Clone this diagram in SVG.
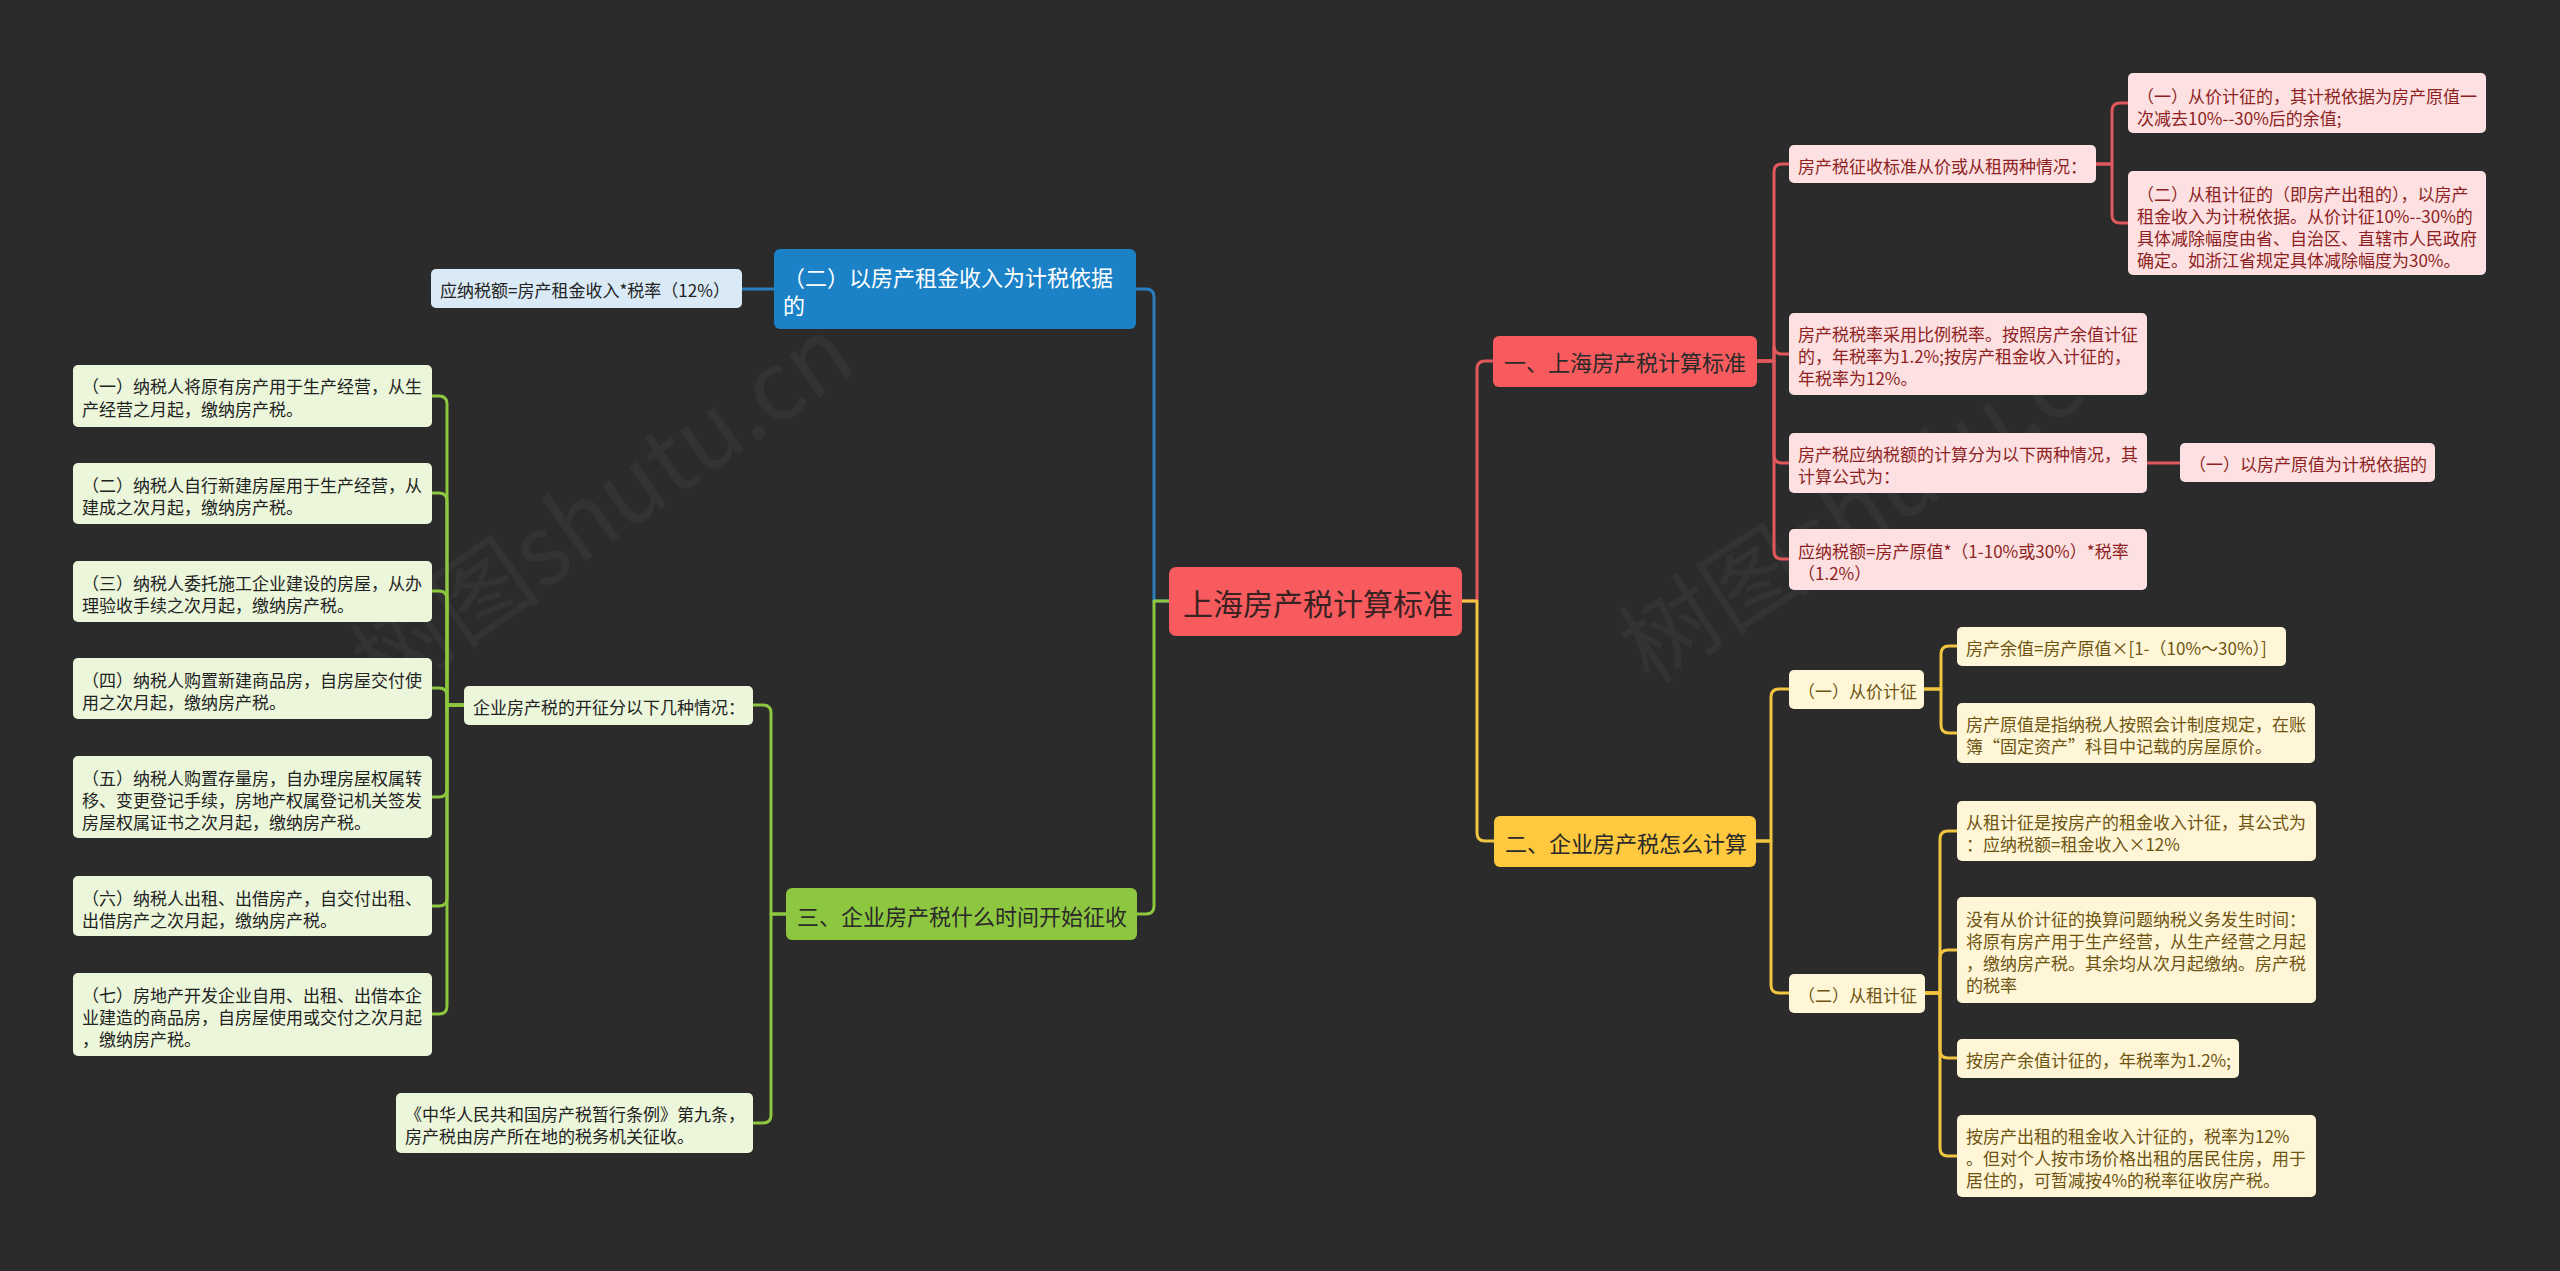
<svg xmlns="http://www.w3.org/2000/svg" width="2560" height="1271" viewBox="0 0 2560 1271">
<style>
text{font-family:"Noto Sans CJK SC","Noto Sans",sans-serif;dominant-baseline:central}
.c{fill:none;stroke-width:3;stroke-linejoin:round;stroke-linecap:round}
.cr{stroke:#E0585C}.cy{stroke:#F2C541}.cb{stroke:#2A7DBE}.cg{stroke:#8DC63F}
.root{fill:#F75B5E}
.r1{fill:#F75B5E}.r2{fill:#FDE1E2}
.y1{fill:#FEC93E}.y2{fill:#FFF6D8}
.b1{fill:#1B82C8}.b2{fill:#D9E9F6}
.g1{fill:#8DC63F}.g2{fill:#EBF6DA}
.t30{font-size:30px;fill:#3a2222}
.t22{font-size:22px;fill:#2a2a2a}
.t22w{font-size:22px;fill:#ffffff}
.t17{font-size:17px}
.tr{fill:#8E1F22}.ty{fill:#6E5410}.tb{fill:#222}.tg{fill:#222}
.wm{font-size:96px;fill:#ffffff;fill-opacity:0.04;dominant-baseline:alphabetic}
</style>
<rect width="2560" height="1271" fill="#2B2B2B"/>
<text class="wm" x="384" y="702" transform="rotate(-35 384 702)">树图shutu.cn</text>
<text class="wm" x="1650" y="686" transform="rotate(-33 1650 686)">树图shutu.cn</text>
<g id="connectors">
<path class="c cr" d="M1462 601 H1477 V369 Q1477 361 1485 361 H1494"/>
<path class="c cy" d="M1462 601 H1477 V833 Q1477 841 1485 841 H1494"/>
<path class="c cb" d="M1169 601 H1154 V297 Q1154 289 1146 289 H1136"/>
<path class="c cg" d="M1169 601 H1154 V906 Q1154 914 1146 914 H1137"/>
<path class="c cr" d="M1757 361 H1774 V172 Q1774 164 1782 164 H1789"/>
<path class="c cr" d="M1757 361 H1774 V346 Q1774 354 1782 354 H1789"/>
<path class="c cr" d="M1757 361 H1774 V455 Q1774 463 1782 463 H1789"/>
<path class="c cr" d="M1757 361 H1774 V551 Q1774 559 1782 559 H1789"/>
<path class="c cr" d="M2096 164 H2112 V111 Q2112 103 2120 103 H2128"/>
<path class="c cr" d="M2096 164 H2112 V215 Q2112 223 2120 223 H2128"/>
<path class="c cr" d="M2147 463 H2180"/>
<path class="c cy" d="M1756 841 H1771 V697 Q1771 689 1779 689 H1789"/>
<path class="c cy" d="M1756 841 H1771 V985 Q1771 993 1779 993 H1789"/>
<path class="c cy" d="M1924 689 H1941 V654 Q1941 646 1949 646 H1957"/>
<path class="c cy" d="M1924 689 H1941 V725 Q1941 733 1949 733 H1957"/>
<path class="c cy" d="M1925 993 H1940 V839 Q1940 831 1948 831 H1957"/>
<path class="c cy" d="M1925 993 H1940 V958 Q1940 950 1948 950 H1957"/>
<path class="c cy" d="M1925 993 H1940 V1050 Q1940 1058 1948 1058 H1957"/>
<path class="c cy" d="M1925 993 H1940 V1148 Q1940 1156 1948 1156 H1957"/>
<path class="c cb" d="M774 289 H742"/>
<path class="c cg" d="M786 914 H771 V713 Q771 705 763 705 H753"/>
<path class="c cg" d="M786 914 H771 V1115 Q771 1123 763 1123 H753"/>
<path class="c cg" d="M464 705 H447 V404 Q447 396 439 396 H432"/>
<path class="c cg" d="M464 705 H447 V501 Q447 493 439 493 H432"/>
<path class="c cg" d="M464 705 H447 V599 Q447 591 439 591 H432"/>
<path class="c cg" d="M464 705 H447 V696 Q447 688 439 688 H432"/>
<path class="c cg" d="M464 705 H447 V789 Q447 797 439 797 H432"/>
<path class="c cg" d="M464 705 H447 V898 Q447 906 439 906 H432"/>
<path class="c cg" d="M464 705 H447 V1006 Q447 1014 439 1014 H432"/>
</g>
<g id="root"><rect class="root" x="1169" y="567" width="293" height="69" rx="7"/><text class="t30" x="1183" y="602">上海房产税计算标准</text></g>
<g id="n1"><rect class="r1" x="1493" y="336" width="264" height="51" rx="6"/><text class="t22" x="1504" y="361">一、上海房产税计算标准</text></g>
<g id="n1a"><rect class="r2" x="1789" y="145" width="307" height="38" rx="5"/><text class="t17 tr" x="1798" y="165">房产税征收标准从价或从租两种情况：</text></g>
<g id="n1a1"><rect class="r2" x="2128" y="73" width="358" height="60" rx="5"/><text class="t17 tr"><tspan x="2137" y="95">（一）从价计征的，其计税依据为房产原值一</tspan><tspan x="2137" y="117">次减去10%--30%后的余值;</tspan></text></g>
<g id="n1a2"><rect class="r2" x="2128" y="171" width="358" height="104" rx="5"/><text class="t17 tr"><tspan x="2137" y="193">（二）从租计征的（即房产出租的），以房产</tspan><tspan x="2137" y="215">租金收入为计税依据。从价计征10%--30%的</tspan><tspan x="2137" y="237">具体减除幅度由省、自治区、直辖市人民政府</tspan><tspan x="2137" y="259">确定。如浙江省规定具体减除幅度为30%。</tspan></text></g>
<g id="n1b"><rect class="r2" x="1789" y="313" width="358" height="82" rx="5"/><text class="t17 tr"><tspan x="1798" y="333">房产税税率采用比例税率。按照房产余值计征</tspan><tspan x="1798" y="355">的，年税率为1.2%;按房产租金收入计征的，</tspan><tspan x="1798" y="377">年税率为12%。</tspan></text></g>
<g id="n1c"><rect class="r2" x="1789" y="433" width="358" height="60" rx="5"/><text class="t17 tr"><tspan x="1798" y="453">房产税应纳税额的计算分为以下两种情况，其</tspan><tspan x="1798" y="475">计算公式为：</tspan></text></g>
<g id="n1c1"><rect class="r2" x="2180" y="443" width="255" height="39" rx="5"/><text class="t17 tr" x="2189" y="463">（一）以房产原值为计税依据的</text></g>
<g id="n1d"><rect class="r2" x="1789" y="529" width="358" height="61" rx="5"/><text class="t17 tr"><tspan x="1798" y="550">应纳税额=房产原值*（1-10%或30%）*税率</tspan><tspan x="1798" y="572">（1.2%）</tspan></text></g>
<g id="n2"><rect class="y1" x="1494" y="816" width="262" height="51" rx="6"/><text class="t22" x="1505" y="842">二、企业房产税怎么计算</text></g>
<g id="n2a"><rect class="y2" x="1789" y="670" width="135" height="39" rx="5"/><text class="t17 ty" x="1798" y="690">（一）从价计征</text></g>
<g id="n2a1"><rect class="y2" x="1957" y="627" width="329" height="39" rx="5"/><text class="t17 ty" x="1966" y="647">房产余值=房产原值×[1-（10%～30%）]</text></g>
<g id="n2a2"><rect class="y2" x="1957" y="703" width="358" height="60" rx="5"/><text class="t17 ty"><tspan x="1966" y="723">房产原值是指纳税人按照会计制度规定，在账</tspan><tspan x="1966" y="745">簿“固定资产”科目中记载的房屋原价。</tspan></text></g>
<g id="n2b"><rect class="y2" x="1789" y="974" width="136" height="39" rx="5"/><text class="t17 ty" x="1798" y="994">（二）从租计征</text></g>
<g id="n2b1"><rect class="y2" x="1957" y="801" width="359" height="60" rx="5"/><text class="t17 ty"><tspan x="1966" y="821">从租计征是按房产的租金收入计征，其公式为</tspan><tspan x="1966" y="843">：应纳税额=租金收入×12%</tspan></text></g>
<g id="n2b2"><rect class="y2" x="1957" y="897" width="359" height="106" rx="5"/><text class="t17 ty"><tspan x="1966" y="918">没有从价计征的换算问题纳税义务发生时间：</tspan><tspan x="1966" y="940">将原有房产用于生产经营，从生产经营之月起</tspan><tspan x="1966" y="962">，缴纳房产税。其余均从次月起缴纳。房产税</tspan><tspan x="1966" y="984">的税率</tspan></text></g>
<g id="n2b3"><rect class="y2" x="1957" y="1039" width="282" height="39" rx="5"/><text class="t17 ty" x="1966" y="1059">按房产余值计征的，年税率为1.2%;</text></g>
<g id="n2b4"><rect class="y2" x="1957" y="1115" width="359" height="82" rx="5"/><text class="t17 ty"><tspan x="1966" y="1135">按房产出租的租金收入计征的，税率为12%</tspan><tspan x="1966" y="1157">。但对个人按市场价格出租的居民住房，用于</tspan><tspan x="1966" y="1179">居住的，可暂减按4%的税率征收房产税。</tspan></text></g>
<g id="nb"><rect class="b1" x="774" y="249" width="362" height="80" rx="6"/><text class="t22w"><tspan x="783" y="276">（二）以房产租金收入为计税依据</tspan><tspan x="783" y="304">的</tspan></text></g>
<g id="nb1"><rect class="b2" x="431" y="269" width="311" height="39" rx="5"/><text class="t17 tb" x="440" y="289">应纳税额=房产租金收入*税率（12%）</text></g>
<g id="n3"><rect class="g1" x="786" y="888" width="351" height="52" rx="6"/><text class="t22" x="797" y="915">三、企业房产税什么时间开始征收</text></g>
<g id="n3a"><rect class="g2" x="464" y="686" width="289" height="39" rx="5"/><text class="t17 tg" x="473" y="706">企业房产税的开征分以下几种情况：</text></g>
<g id="n3b"><rect class="g2" x="396" y="1093" width="357" height="60" rx="5"/><text class="t17 tg"><tspan x="405" y="1113">《中华人民共和国房产税暂行条例》第九条，</tspan><tspan x="405" y="1135">房产税由房产所在地的税务机关征收。</tspan></text></g>
<g id="g1"><rect class="g2" x="73" y="365" width="359" height="62" rx="5"/><text class="t17 tg"><tspan x="82" y="385">（一）纳税人将原有房产用于生产经营，从生</tspan><tspan x="82" y="408">产经营之月起，缴纳房产税。</tspan></text></g>
<g id="g2"><rect class="g2" x="73" y="463" width="359" height="61" rx="5"/><text class="t17 tg"><tspan x="82" y="484">（二）纳税人自行新建房屋用于生产经营，从</tspan><tspan x="82" y="506">建成之次月起，缴纳房产税。</tspan></text></g>
<g id="g3"><rect class="g2" x="73" y="561" width="359" height="61" rx="5"/><text class="t17 tg"><tspan x="82" y="582">（三）纳税人委托施工企业建设的房屋，从办</tspan><tspan x="82" y="604">理验收手续之次月起，缴纳房产税。</tspan></text></g>
<g id="g4"><rect class="g2" x="73" y="658" width="359" height="61" rx="5"/><text class="t17 tg"><tspan x="82" y="679">（四）纳税人购置新建商品房，自房屋交付使</tspan><tspan x="82" y="701">用之次月起，缴纳房产税。</tspan></text></g>
<g id="g5"><rect class="g2" x="73" y="756" width="359" height="82" rx="5"/><text class="t17 tg"><tspan x="82" y="777">（五）纳税人购置存量房，自办理房屋权属转</tspan><tspan x="82" y="799">移、变更登记手续，房地产权属登记机关签发</tspan><tspan x="82" y="821">房屋权属证书之次月起，缴纳房产税。</tspan></text></g>
<g id="g6"><rect class="g2" x="73" y="876" width="359" height="60" rx="5"/><text class="t17 tg"><tspan x="82" y="897">（六）纳税人出租、出借房产，自交付出租、</tspan><tspan x="82" y="919">出借房产之次月起，缴纳房产税。</tspan></text></g>
<g id="g7"><rect class="g2" x="73" y="973" width="359" height="83" rx="5"/><text class="t17 tg"><tspan x="82" y="994">（七）房地产开发企业自用、出租、出借本企</tspan><tspan x="82" y="1016">业建造的商品房，自房屋使用或交付之次月起</tspan><tspan x="82" y="1038">，缴纳房产税。</tspan></text></g>
</svg>
